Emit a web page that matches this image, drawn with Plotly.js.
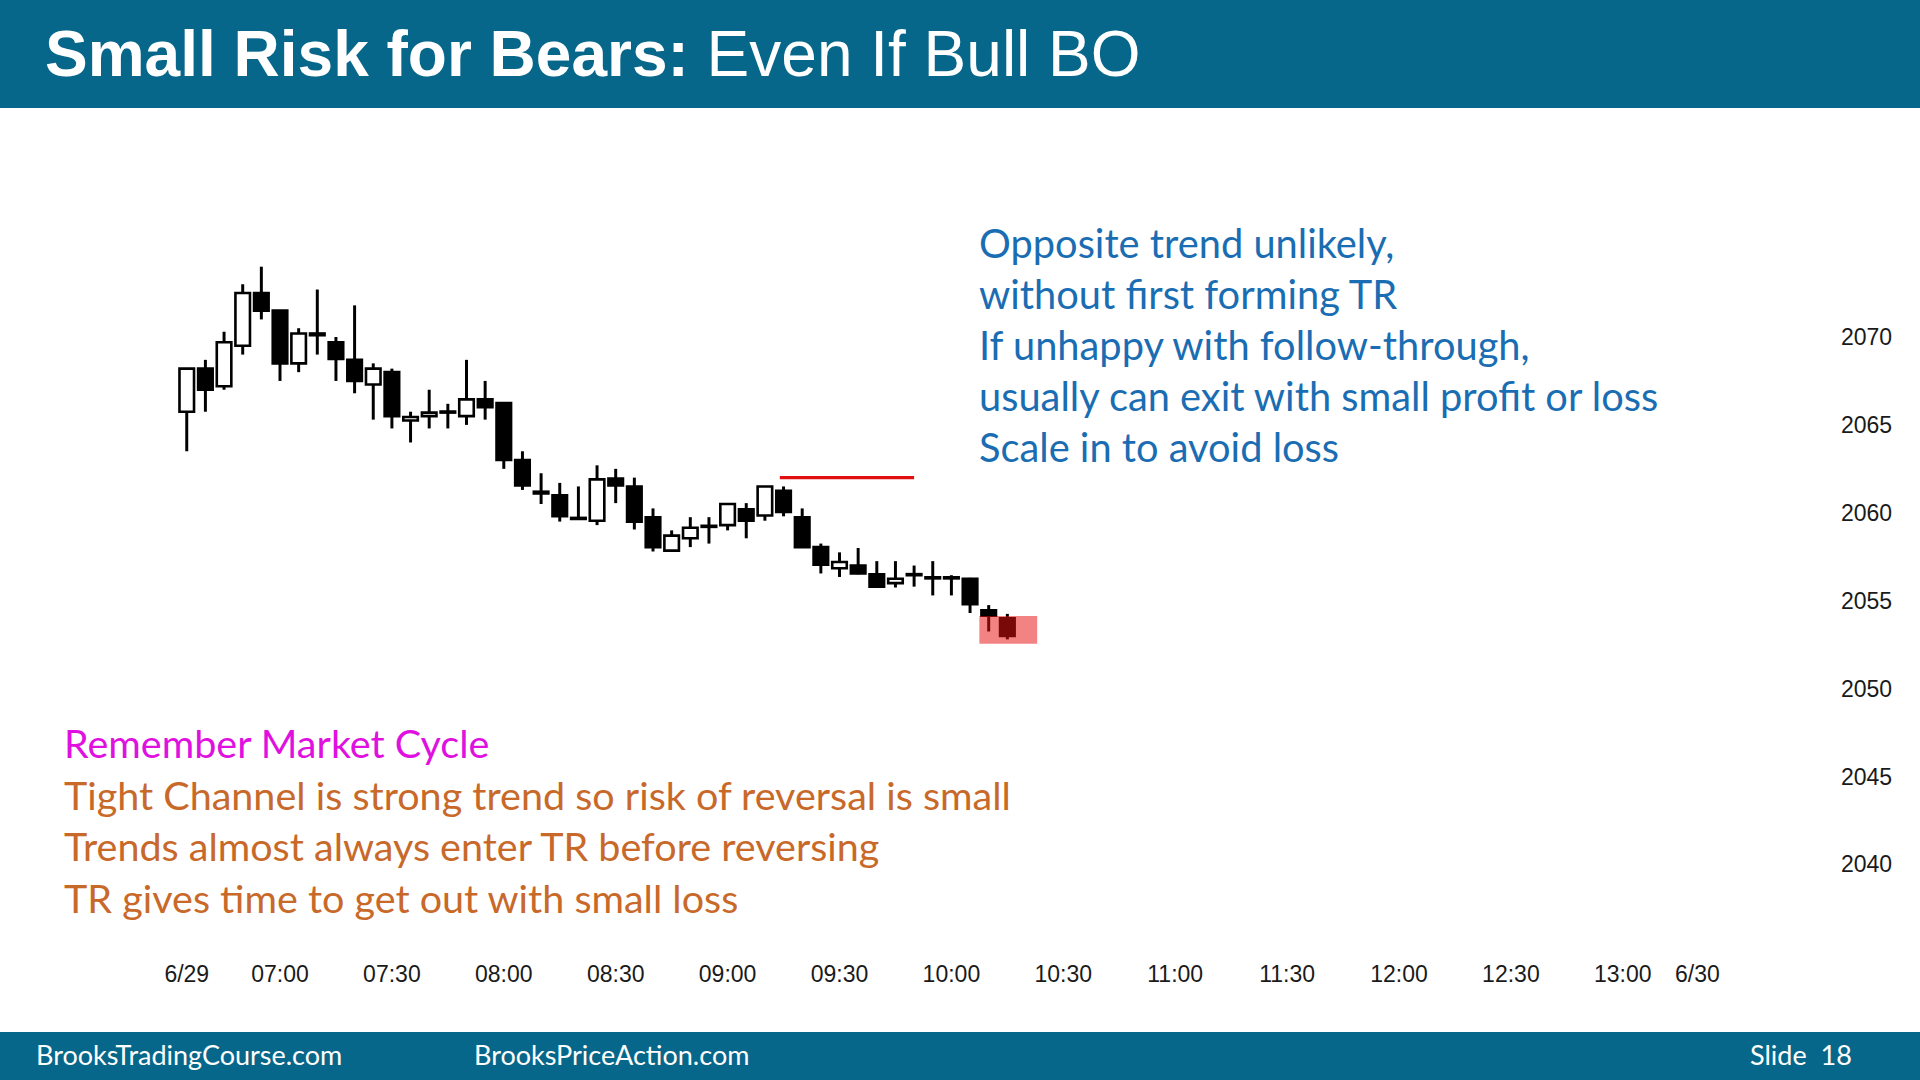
<!DOCTYPE html>
<html><head><meta charset="utf-8">
<script src="https://cdn.plot.ly/plotly-3.0.1.min.js"></script>
<style>html,body{margin:0;padding:0;background:#fff;overflow:hidden;} #chart{width:1920px;height:1080px;}</style>
</head><body><div id="chart"></div>
<script>
// ---- data (5-minute bars, 6/29) ----
const times  = ['06:35','06:40','06:45','06:50','06:55','07:00','07:05','07:10','07:15','07:20','07:25','07:30',
                '07:35','07:40','07:45','07:50','07:55','08:00','08:05','08:10','08:15','08:20','08:25','08:30',
                '08:35','08:40','08:45','08:50','08:55','09:00','09:05','09:10','09:15','09:20','09:25','09:30',
                '09:35','09:40','09:45','09:50','09:55','10:00','10:05','10:10','10:15'];
const opens  = [2065.75,2068.2,2067.2,2069.5,2072.5,2071.5,2068.5,2070.2,2069.7,2068.7,2067.3,2068.0,
                2065.25,2065.5,2065.7,2065.5,2066.45,2066.25,2063.0,2061.2,2061.0,2059.7,2059.55,2061.95,
                2061.5,2059.75,2057.85,2058.55,2059.2,2059.3,2060.2,2059.85,2061.25,2059.75,2058.05,2056.85,
                2057.0,2056.5,2056.0,2056.45,2056.3,2056.3,2056.25,2054.45,2054.0];
const highs  = [2068.2,2068.7,2070.3,2073.0,2074.0,2071.5,2070.5,2072.7,2070.0,2071.8,2068.5,2068.2,
                2065.75,2067.0,2066.2,2068.7,2067.5,2066.3,2063.5,2062.25,2061.7,2061.5,2062.7,2062.5,
                2062.0,2060.25,2059.0,2059.75,2059.75,2060.5,2060.55,2061.5,2061.5,2060.25,2058.25,2057.75,
                2058.0,2057.25,2057.25,2057.0,2057.25,2056.45,2056.3,2054.75,2054.25];
const lows   = [2063.5,2065.75,2067.0,2069.0,2071.0,2067.5,2068.0,2069.0,2067.5,2066.8,2065.3,2064.8,
                2064.0,2064.8,2064.8,2065.0,2065.3,2062.5,2061.3,2060.5,2059.5,2059.6,2059.3,2060.55,
                2059.05,2057.8,2057.8,2058.05,2058.25,2059.0,2058.55,2059.55,2059.8,2058.0,2056.55,2056.35,
                2056.5,2055.8,2055.75,2055.8,2055.3,2055.3,2054.3,2053.25,2052.8];
const closes = [2068.2,2067.0,2069.7,2072.5,2071.5,2068.5,2070.2,2070.1,2068.75,2067.5,2068.2,2065.5,
                2065.45,2065.7,2065.7,2066.45,2066.0,2063.0,2061.55,2061.1,2059.8,2059.65,2061.9,2061.55,
                2059.5,2058.05,2058.7,2059.15,2059.2,2060.5,2059.55,2061.5,2060.05,2058.05,2057.05,2057.2,
                2056.55,2055.8,2056.25,2056.45,2056.27,2056.27,2054.8,2054.15,2053.0];

const tickTimes  = ['06:35','07:00','07:30','08:00','08:30','09:00','09:30','10:00','10:30','11:00','11:30','12:00','12:30','13:00','13:20'];
const tickLabels = ['6/29','07:00','07:30','08:00','08:30','09:00','09:30','10:00','10:30','11:00','11:30','12:00','12:30','13:00','6/30'];
const priceTicks = [2040,2045,2050,2055,2060,2065,2070];

const resistanceTimes = ['09:14','09:50'];
const resistancePrice = 2062.0;
const entryBoxTimes  = ['10:07:30','10:23'];
const entryBoxPrices = [2052.55,2054.13];

const titleBold = 'Small Risk for Bears:';
const titleRest = 'Even If Bull BO';
const blueLines = ['Opposite trend unlikely,','without first forming TR','If unhappy with follow-through,','usually can exit with small profit or loss','Scale in to avoid loss'];
const cycleLine = 'Remember Market Cycle';
const orangeLines = ['Tight Channel is strong trend so risk of reversal is small','Trends almost always enter TR before reversing','TR gives time to get out with small loss'];
const footerTexts = ['BrooksTradingCourse.com','BrooksPriceAction.com','Slide\u00a0\u00a018'];

// ---- helpers ----
function mins(s){const p=s.split(':').map(Number);return p[0]*60+p[1]+(p[2]||0)/60;}
const W=1920,H=1080;
const PX_PER_MIN=3.73, PX_AT_7=280;           // x calibration
const PX_PER_PT=17.58, PY_AT_2070=337;        // y calibration
const plotL=100, plotR=1840, plotT=110, plotB=958;
const xr=[420+(plotL-PX_AT_7)/PX_PER_MIN, 420+(plotR-PX_AT_7)/PX_PER_MIN];
const yr=[2070-(plotB-PY_AT_2070)/PX_PER_PT, 2070+(PY_AT_2070-plotT)/PX_PER_PT];
const px=x=>x/W, py=y=>1-y/H;

const xs=times.map(mins);
const wickTrace={type:'bar',x:xs,base:lows,y:highs.map((h,i)=>h-lows[i]),width:0.8,
  marker:{color:'#000',line:{width:0}},hoverinfo:'skip',showlegend:false};
const bodyTrace={type:'bar',x:xs,
  base:opens.map((o,i)=>Math.min(o,closes[i])),
  y:opens.map((o,i)=>Math.max(Math.abs(closes[i]-o),0.06)),
  width:3.9,
  marker:{color:opens.map((o,i)=>closes[i]>o?'#ffffff':'#000000'),line:{color:'#000',width:2.6}},
  hoverinfo:'skip',showlegend:false};

const textFont='Lato, "Open Sans", sans-serif';
const annotations=[];
annotations.push({xref:'paper',yref:'paper',x:px(43),y:py(54),xanchor:'left',yanchor:'middle',showarrow:false,
  text:'<b>'+titleBold+'</b> '+titleRest,font:{family:'"Liberation Sans", Arial, sans-serif',size:64,color:'#ffffff'}});
blueLines.forEach((t,i)=>annotations.push({xref:'paper',yref:'paper',x:px(977),y:py(243+50.8*i),xanchor:'left',yanchor:'middle',
  showarrow:false,text:t,font:{family:textFont,size:39.8,color:'#1a6db2'}}));
annotations.push({xref:'paper',yref:'paper',x:px(62),y:py(742),xanchor:'left',yanchor:'middle',showarrow:false,
  text:cycleLine,font:{family:textFont,size:39.5,color:'#e010e0'}});
orangeLines.forEach((t,i)=>annotations.push({xref:'paper',yref:'paper',x:px(62),y:py(794+51.5*i),xanchor:'left',yanchor:'middle',
  showarrow:false,text:t,font:{family:textFont,size:39.5,color:'#c8692a'}}));
const footerX=[34,472,1748];
footerTexts.forEach((t,i)=>annotations.push({xref:'paper',yref:'paper',x:px(footerX[i]),y:py(1054),xanchor:'left',yanchor:'middle',
  showarrow:false,text:t,font:{family:textFont,size:27,color:'#ffffff'}}));

const shapes=[
  {type:'rect',xref:'paper',yref:'paper',x0:0,x1:1,y0:py(108),y1:1,fillcolor:'#07678a',line:{width:0},layer:'below'},
  {type:'rect',xref:'paper',yref:'paper',x0:0,x1:1,y0:0,y1:py(1032),fillcolor:'#07678a',line:{width:0},layer:'below'},
  {type:'line',xref:'x',yref:'y',x0:mins(resistanceTimes[0]),x1:mins(resistanceTimes[1]),y0:resistancePrice,y1:resistancePrice,
   line:{color:'#e01010',width:3.4},layer:'above'},
  {type:'rect',xref:'x',yref:'y',x0:mins(entryBoxTimes[0]),x1:mins(entryBoxTimes[1]),y0:entryBoxPrices[0],y1:entryBoxPrices[1],
   fillcolor:'rgba(232,18,18,0.52)',line:{width:0},layer:'above'}
];

const layout={width:W,height:H,margin:{l:0,r:0,t:0,b:0},paper_bgcolor:'#ffffff',plot_bgcolor:'#ffffff',
  font:{family:'"Liberation Sans", Arial, sans-serif',color:'#1a1a1a'},
  barmode:'overlay',showlegend:false,
  xaxis:{domain:[px(plotL),px(plotR)],range:xr,tickvals:tickTimes.map(mins),ticktext:tickLabels,showgrid:false,zeroline:false,
    showline:false,ticks:'',tickfont:{size:23,color:'#1a1a1a'},fixedrange:true},
  yaxis:{domain:[py(plotB),py(plotT)],range:yr,side:'right',tickvals:priceTicks,ticktext:priceTicks.map(String),showgrid:false,
    zeroline:false,showline:false,ticks:'',tickfont:{size:23,color:'#1a1a1a'},fixedrange:true},
  shapes:shapes,annotations:annotations};

Plotly.newPlot('chart',[wickTrace,bodyTrace],layout,{displayModeBar:false,staticPlot:true});
</script></body></html>
